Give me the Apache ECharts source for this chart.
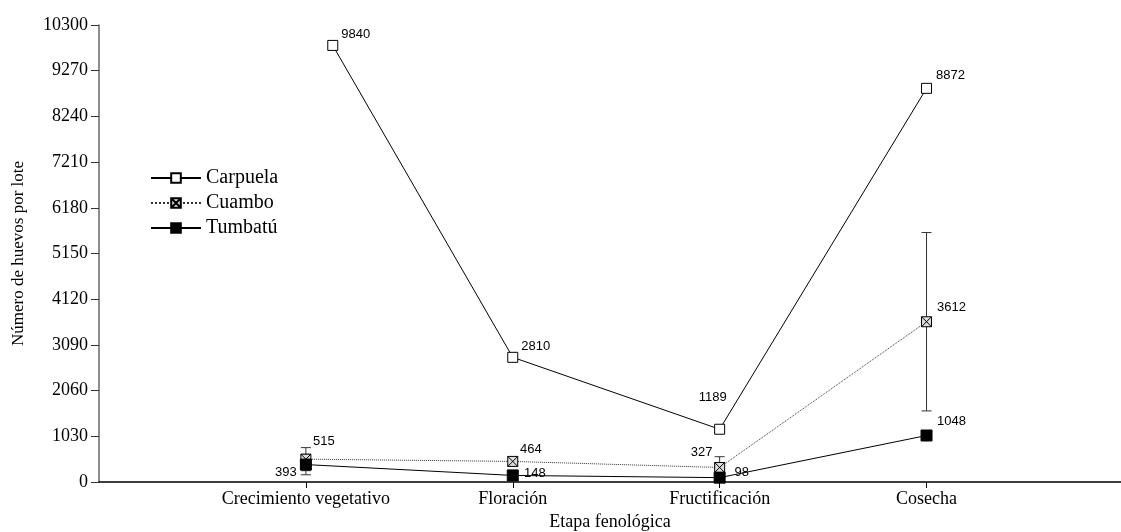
<!DOCTYPE html>
<html>
<head>
<meta charset="utf-8">
<script src="https://cdn.jsdelivr.net/npm/echarts@6/dist/echarts.min.js"></script>
<style>html,body{margin:0;padding:0;background:#fff}#c{width:1121px;height:532px}</style>
</head>
<body>
<div id="c"></div>
<script>
// ---- data ----
var stages = ['Crecimiento vegetativo', 'Floración', 'Fructificación', 'Cosecha'];
var stageX = [1, 2, 3, 4];
var carpuelaX = [1.13, 2, 3, 4];
var carpuela = [9840, 2810, 1189, 8872];
var cuambo = [515, 464, 327, 3612];
var cuamboErr = [260, 80, 243, 2010];
var tumbatu = [393, 148, 98, 1048];
var tumbatuErr = [230, 70, 50, 100];
var yTicks = [0, 1030, 2060, 3090, 4120, 5150, 6180, 7210, 8240, 9270, 10300];

// ---- label placement (pixel offsets from marker) ----
var carpuelaLbl = [[23, -11], [23, -11], [-7, -32], [24, -13]];
var cuamboLbl = [[18, -18], [18, -12], [-18, -15], [25, -14]];
var tumbatuLbl = [[-20, 8], [22, -2], [22, -5], [25, -14]];

var serif = '"Liberation Serif","DejaVu Serif",serif';
var sans = '"Liberation Sans",Arial,sans-serif';

function pts(xs, ys, offs) {
  return ys.map(function (v, i) {
    return {
      value: [xs[i], v],
      label: { show: true, position: 'inside', offset: offs[i], formatter: String(v),
        fontFamily: sans, fontSize: 13, color: '#000', align: 'center', verticalAlign: 'middle' }
    };
  });
}
function errData(xs, ys, es) {
  return ys.map(function (v, i) { return [xs[i], v, es[i]]; });
}
function errSeries(data) {
  return {
    type: 'custom', silent: true, z: 1,
    data: data,
    encode: { x: 0, y: 1 },
    renderItem: function (params, api) {
      var x = api.value(0), v = api.value(1), e = api.value(2);
      var hi = api.coord([x, v + e]), lo = api.coord([x, v - e]);
      var w = 5;
      var st = { stroke: '#333', lineWidth: 1 };
      return { type: 'group', children: [
        { type: 'line', shape: { x1: hi[0], y1: hi[1], x2: lo[0], y2: lo[1] }, style: st },
        { type: 'line', shape: { x1: hi[0] - w, y1: hi[1], x2: hi[0] + w, y2: hi[1] }, style: st },
        { type: 'line', shape: { x1: lo[0] - w, y1: lo[1], x2: lo[0] + w, y2: lo[1] }, style: st }
      ]};
    }
  };
}

var boxX = 'path://M0,0 L10,0 L10,10 L0,10 Z M0,0 L10,10 M10,0 L0,10';

var chart = echarts.init(document.getElementById('c'), null, { renderer: 'canvas' });
chart.setOption({
  animation: false,
  backgroundColor: '#fff',
  grid: { left: 99, top: 25, right: 0, bottom: 50, containLabel: false, outerBoundsMode: 'none' },
  legend: {
    left: 145, top: 163, orient: 'vertical',
    itemWidth: 50, itemHeight: 12, itemGap: 5,
    textStyle: { fontFamily: serif, fontSize: 20, color: '#000' },
    data: ['Carpuela', 'Cuambo', 'Tumbatú']
  },
  xAxis: {
    type: 'value', min: 0, max: 4.94,
    name: 'Etapa fenológica', nameLocation: 'middle', nameGap: 31,
    nameTextStyle: { fontFamily: serif, fontSize: 18, color: '#000' },
    splitLine: { show: false },
    axisLine: { lineStyle: { color: '#000', width: 1.5 } },
    axisTick: { show: true, length: 6, customValues: stageX, lineStyle: { color: '#000' } },
    axisLabel: { customValues: stageX, margin: 8, fontFamily: serif, fontSize: 18, color: '#000',
      formatter: function (v) { return stages[Math.round(v) - 1] || ''; } }
  },
  yAxis: {
    type: 'value', min: 0, max: 10300, interval: 1030,
    name: 'Número de huevos por lote', nameLocation: 'middle', nameGap: 72,
    nameTextStyle: { fontFamily: serif, fontSize: 17, color: '#000' },
    splitLine: { show: false },
    axisLine: { show: true, lineStyle: { color: '#666', width: 1.5 } },
    axisTick: { show: true, length: 8, lineStyle: { color: '#333' } },
    axisLabel: { margin: 11, fontFamily: serif, fontSize: 18, color: '#000',
      formatter: function (v) { return yTicks.indexOf(v) >= 0 ? String(v) : ''; } }
  },
  series: [
    errSeries(errData(stageX, cuambo, cuamboErr)),
    errSeries(errData(stageX, tumbatu, tumbatuErr)),
    {
      name: 'Carpuela', type: 'line', z: 3,
      data: pts(carpuelaX, carpuela, carpuelaLbl),
      symbol: 'rect', symbolSize: 10,
      lineStyle: { color: '#000', width: 1 },
      itemStyle: { color: '#fff', borderColor: '#000', borderWidth: 1 }
    },
    {
      name: 'Cuambo', type: 'line', z: 3,
      data: pts(stageX, cuambo, cuamboLbl),
      symbol: boxX, symbolSize: 10, symbolKeepAspect: true,
      lineStyle: { color: '#333', width: 1, type: 'dotted' },
      itemStyle: { color: '#ddd', borderColor: '#000', borderWidth: 1 }
    },
    {
      name: 'Tumbatú', type: 'line', z: 3,
      data: pts(stageX, tumbatu, tumbatuLbl),
      symbol: 'rect', symbolSize: 11,
      lineStyle: { color: '#000', width: 1 },
      itemStyle: { color: '#000', borderColor: '#000', borderWidth: 1 }
    }
  ]
});
</script>
</body>
</html>
